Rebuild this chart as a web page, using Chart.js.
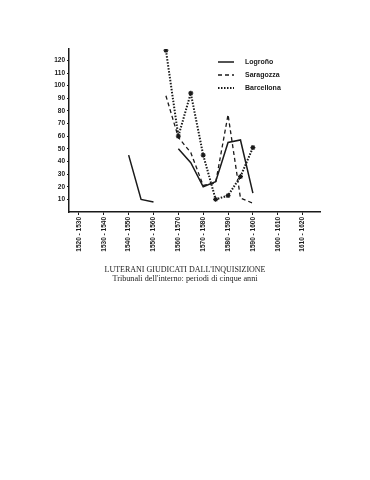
<!DOCTYPE html>
<html>
<head>
<meta charset="utf-8">
<script src="https://cdn.jsdelivr.net/npm/chart.js@4"></script>
<style>
  html, body { margin: 0; padding: 0; background: #fff; }
  #wrap { position: absolute; left: 0; top: 0; width: 370px; height: 300px; }
  .cap { position: absolute; left: 0; width: 370px; text-align: center; font-family: "Liberation Serif", "DejaVu Serif", serif; color: #222; white-space: nowrap; }
  #cap1 { top: 265px; font-size: 8px; }
  #cap2 { top: 274px; font-size: 8.2px; }
</style>
</head>
<body>
<div id="wrap"><canvas id="c" width="370" height="300"></canvas></div>
<div class="cap" id="cap1">LUTERANI GIUDICATI DALL'INQUISIZIONE</div>
<div class="cap" id="cap2">Tribunali dell'interno: periodi di cinque anni</div>
<script>
// ---- data ----
const years      = [1540, 1545, 1550, 1555, 1560, 1565, 1570, 1575, 1580, 1585, 1590];
const logrono    = [45,   10,   8,    null, 50,   39,   20,   24,   55,   57,   15];
const saragozza  = [null, null, null, 92,   59,   47,   21,   23,   77,   11,   7];
const barcellona = [null, null, null, 128,  60,   94,   45,   10,   13,   28,   51];
const seriesNames = ['Logroño', 'Saragozza', 'Barcellona'];
const periodStarts = [1520, 1530, 1540, 1550, 1560, 1570, 1580, 1590, 1600, 1610];
const yTicks = [10, 20, 30, 40, 50, 60, 70, 80, 90, 100, 110, 120];

const toPts = arr => years.map((y, i) => ({ x: y, y: arr[i] }));
const ink = '#1a1a1a';
const narrow = '"Liberation Sans Narrow", "Liberation Sans", sans-serif';

const legendPlugin = {
  id: 'customLegend',
  afterDraw(chart) {
    const ctx = chart.ctx;
    const x0 = 218, x1 = 234, tx = 245;
    const rows = [62, 75, 88];
    ctx.save();
    ctx.strokeStyle = ink;
    ctx.fillStyle = ink;
    ctx.font = 'bold 7px ' + narrow;
    ctx.textBaseline = 'middle';
    chart.data.datasets.forEach((ds, i) => {
      const y = rows[i];
      ctx.lineWidth = ds.borderWidth;
      ctx.setLineDash(ds.borderDash || []);
      ctx.beginPath(); ctx.moveTo(x0, y); ctx.lineTo(x1, y); ctx.stroke();
      ctx.fillText(seriesNames[i], tx, y);
    });
    ctx.restore();
  }
};

new Chart(document.getElementById('c'), {
  type: 'line',
  data: {
    datasets: [
      { label: seriesNames[0], data: toPts(logrono), borderColor: ink, borderWidth: 1.5, pointRadius: 0, spanGaps: false, tension: 0 },
      { label: seriesNames[1], data: toPts(saragozza), borderColor: ink, borderWidth: 1.3, borderDash: [4, 3], pointRadius: 0, spanGaps: false, tension: 0 },
      { label: seriesNames[2], data: toPts(barcellona), borderColor: ink, borderWidth: 2, borderDash: [1.5, 1.5], pointStyle: 'star', pointRadius: 2.5, pointBorderColor: ink, pointBorderWidth: 1.2, spanGaps: false, tension: 0 }
    ]
  },
  options: {
    responsive: false,
    animation: false,
    layout: { padding: { top: 49, right: 50, left: 0, bottom: 0 } },
    plugins: { legend: { display: false }, tooltip: { enabled: false } },
    scales: {
      x: {
        type: 'linear', min: 1516, max: 1617,
        afterBuildTicks: s => { s.ticks = periodStarts.map(v => ({ value: v })); },
        afterFit: s => { s.height = 300 - 212; },
        border: { display: true, color: ink, width: 1.5 },
        grid: { drawOnChartArea: false, drawTicks: true, tickLength: 3, color: ink },
        ticks: {
          autoSkip: false, maxRotation: 90, minRotation: 90, padding: 2,
          color: ink, font: { family: narrow, size: 6.5, weight: 'bold' },
          callback: v => v + ' - ' + (v + 10)
        }
      },
      y: {
        min: 0, max: 129,
        afterBuildTicks: s => { s.ticks = yTicks.map(v => ({ value: v })); },
        afterFit: s => { s.width = 69; },
        border: { display: true, color: ink, width: 1.5 },
        grid: { drawOnChartArea: false, drawTicks: true, tickLength: 2, color: ink },
        ticks: {
          padding: 2, color: ink,
          font: { family: narrow, size: 6.5, weight: 'bold' }
        }
      }
    }
  },
  plugins: [legendPlugin]
});
</script>
</body>
</html>
